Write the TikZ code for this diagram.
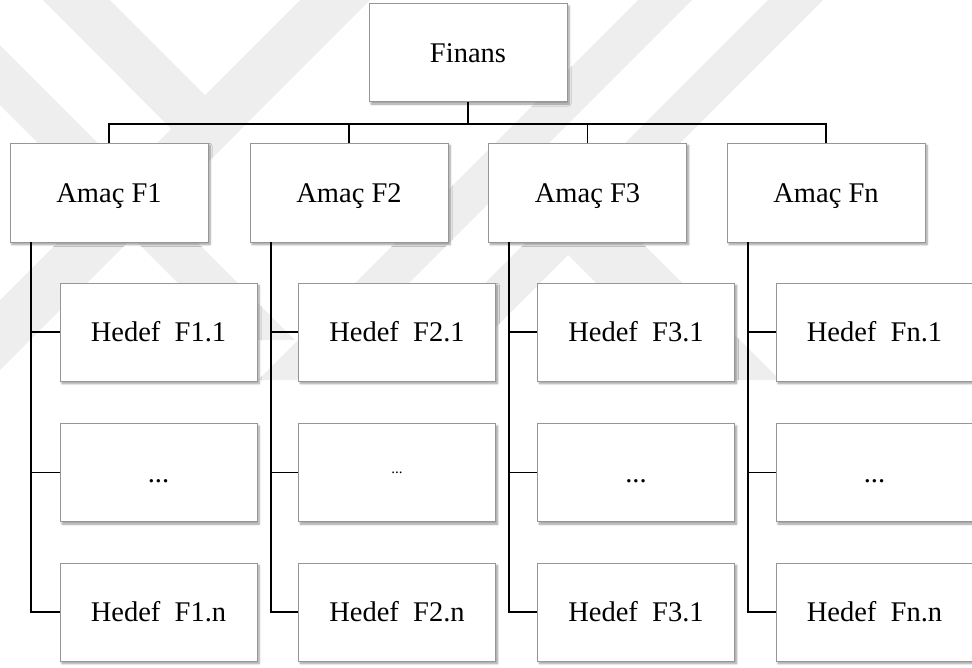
\documentclass[tikz,border=0pt]{standalone}
\usepackage{fontspec}
\setmainfont{Liberation Serif}
\usetikzlibrary{calc,shadows.blur}
\definecolor{wmgray}{RGB}{238,238,238}
\definecolor{boxline}{RGB}{150,150,150}
\begin{document}
\begin{tikzpicture}[x=1pt,y=-1pt,
  card/.style={draw=boxline, line width=0.8pt, fill=white,
    minimum width=198pt, minimum height=98pt, inner sep=0pt,
    text height=19pt, text depth=0pt,
    font=\fontsize{28.5}{34}\selectfont,
    blur shadow={shadow xshift=2pt, shadow yshift=-2.5pt,
      shadow blur steps=6, shadow blur radius=2pt}},
  tinydots/.style={text height=2pt, font=\fontsize{15}{18}\selectfont},
  link/.style={line width=1.8pt, black},
  band/.style={fill=wmgray, draw=none}]
\useasboundingbox (0,0) rectangle (972,667);

% faint background emblem made of diagonal bands
\begin{scope}
  \clip (0,0) rectangle (972,667);
  \fill[band] (43,0) -- (110,0) -- (240,130) -- (206,164) -- cycle;
  \fill[band] (300,0) -- (370,0) -- (0,370) -- (0,300) -- cycle;
  \fill[band] (0,45) -- (295,340) -- (235,340) -- (0,105) -- cycle;
  \fill[band] (638,0) -- (692,0) -- (312,380) -- (258,380) -- cycle;
  \fill[band] (768,0) -- (823,0) -- (443,380) -- (388,380) -- cycle;
  \fill[band] (568,255) -- (611,212) -- (780,380) -- (693,380) -- cycle;
\end{scope}

% top level
\node[card] (fin) at (468,52.5) {Finans};

% goals
\node[card, minimum height=99pt] (a1) at (109,192.5) {Amaç F1};
\node[card, minimum height=99pt] (a2) at (349,192.5) {Amaç F2};
\node[card, minimum height=99pt] (a3) at (587.5,192.5) {Amaç F3};
\node[card, minimum height=99pt] (a4) at (826,192.5) {Amaç Fn};

% targets, column 1
\node[card, minimum width=197pt] (h11) at (158.5,332) {Hedef\ \ F1.1};
\node[card, minimum width=197pt] (h12) at (158.5,472.5) {...};
\node[card, minimum width=197pt] (h13) at (158.5,612) {Hedef\ \ F1.n};
% column 2
\node[card, minimum width=197pt] (h21) at (397,332) {Hedef\ \ F2.1};
\node[card, minimum width=197pt, tinydots] (h22) at (397,472.5) {...};
\node[card, minimum width=197pt] (h23) at (397,612) {Hedef\ \ F2.n};
% column 3
\node[card, minimum width=197pt] (h31) at (636,332) {Hedef\ \ F3.1};
\node[card, minimum width=197pt] (h32) at (636,472.5) {...};
\node[card, minimum width=197pt] (h33) at (636,612) {Hedef\ \ F3.1};
% column 4
\node[card, minimum width=197pt] (h41) at (874.5,332) {Hedef\ \ Fn.1};
\node[card, minimum width=197pt] (h42) at (874.5,472.5) {...};
\node[card, minimum width=197pt] (h43) at (874.5,612) {Hedef\ \ Fn.n};

% bus from the top box to the goals
\coordinate (bus) at (0,124);
\draw[link] (fin.south) -- (fin.south |- bus);
\draw[link] (a1.north) -- (a1.north |- bus) -- (a4.north |- bus) -- (a4.north);
\draw[link] (a2.north) -- (a2.north |- bus);
\draw[link] (a3.north) -- (a3.north |- bus);

% trunks from each goal to its targets
\foreach \c in {1,2,3,4}{
  \path (a\c.south west) ++(21,0) coordinate (t\c);
  \draw[link] (t\c) |- (h\c3.west);
  \draw[link] (t\c |- h\c1.west) -- (h\c1.west);
  \draw[link] (t\c |- h\c2.west) -- (h\c2.west);
}
\end{tikzpicture}
\end{document}
